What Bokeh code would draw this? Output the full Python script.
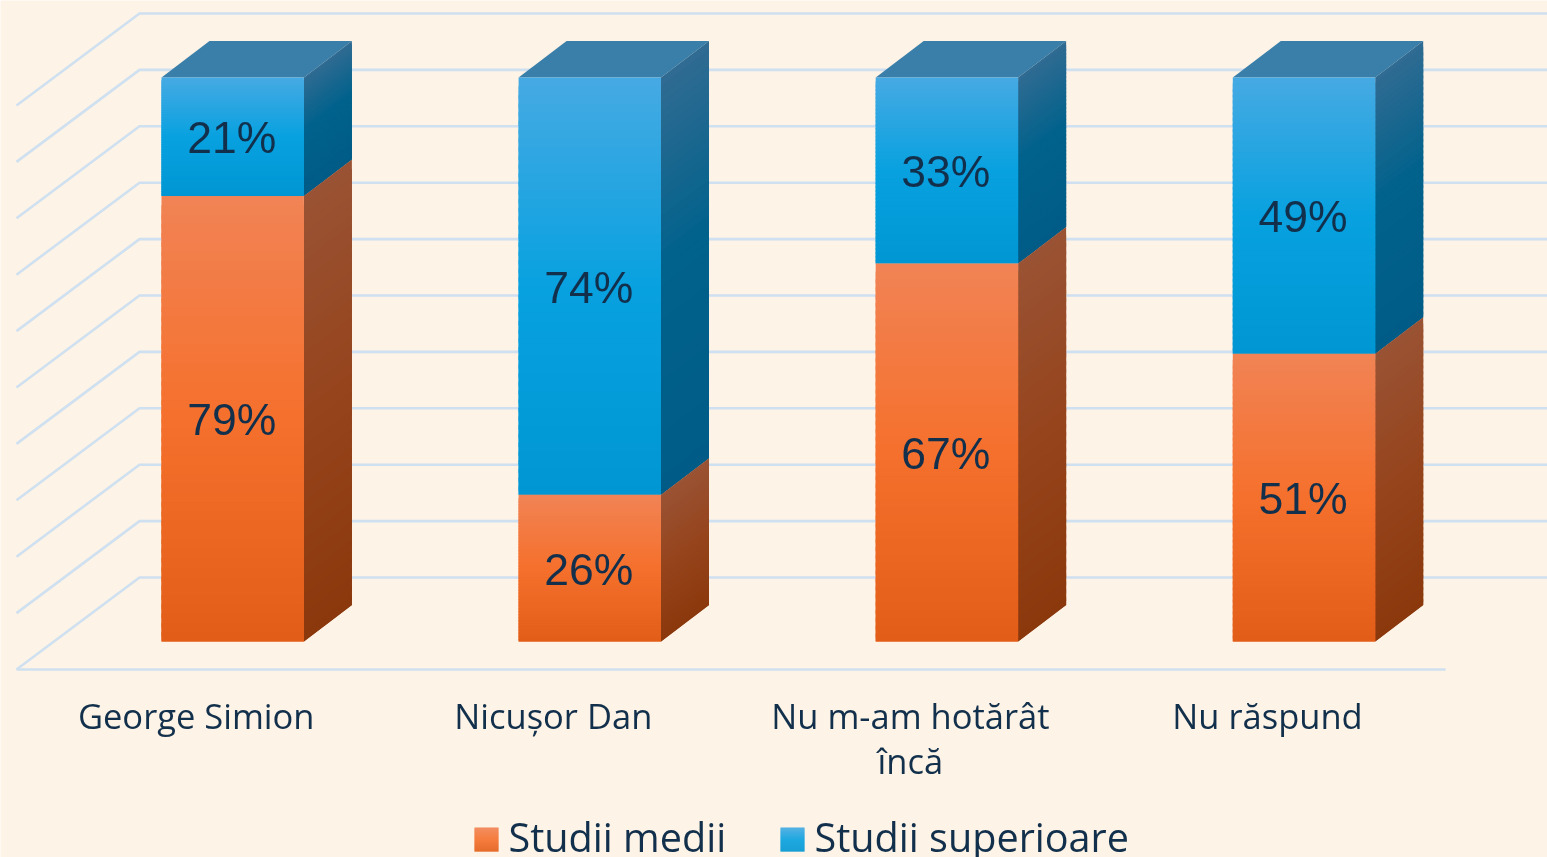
from bokeh.plotting import figure
from bokeh.embed import file_html
from bokeh.resources import INLINE
from bokeh.core.properties import value

# ---- data ----
categories = ["George Simion", "Nicușor Dan", "Nu m-am hotărât\nîncă", "Nu răspund"]
studii_medii = [79, 26, 67, 51]
studii_superioare = [21, 74, 33, 49]
series_names = ["Studii medii", "Studii superioare"]
y_ticks = [0, 10, 20, 30, 40, 50, 60, 70, 80, 90, 100]

# ---- style / layout ----
W, H = 1547, 857
BG = "#FDF3E6"
INK = "#12304C"
GRID = "#CFE0F1"
X0_PX, X_STEP = 232.2, 357.1    # screen x of category 0, px per category
Y0_PX, Y_STEP = 641.0, 5.64     # screen y of value 0, px per percent
def xd(px): return (px - X0_PX) / X_STEP
def yd(py): return (Y0_PX - py) / Y_STEP
HALF = 71.2 / X_STEP
DX, DY = 48.0 / X_STEP, 36.5 / Y_STEP
N = 48

ORANGE_FRONT = [(0, (241, 131, 85)), (.5, (245, 112, 44)), (1, (226, 94, 24))]
BLUE_FRONT = [(0, (70, 170, 227)), (.5, (8, 161, 224)), (1, (0, 150, 211))]
ORANGE_SIDE = [(0, (153, 83, 52)), (.5, (150, 68, 28)), (1, (139, 56, 13))]
BLUE_SIDE = [(0, (48, 107, 146)), (.45, (1, 98, 140)), (1, (0, 92, 134))]
BLUE_TOP = "#3A7FA9"

def grad(stops, t):
    for (a, ca), (b, cb) in zip(stops, stops[1:]):
        if t <= b:
            f = (t - a) / (b - a)
            return "#%02x%02x%02x" % tuple(round(p + (q - p) * f) for p, q in zip(ca, cb))
    return "#%02x%02x%02x" % stops[-1][1]

p = figure(width=W, height=H, x_range=(xd(0), xd(W)), y_range=(yd(H), yd(0)),
           output_backend="svg", toolbar_location=None, min_border=0,
           background_fill_color=BG, border_fill_color=BG, outline_line_color=None,
           styles={"position": "fixed", "left": "0", "top": "0"})
p.axis.visible = False
p.grid.visible = False

# ---- 3D wall and floor grid ----
back_x, front_x = xd(139), xd(16)
back_shift, front_shift = yd(577), yd(669)
gx, gy = [], []
for t in y_ticks:
    gx.append([front_x, back_x, xd(W + 5)])
    gy.append([t + front_shift, t + back_shift, t + back_shift])
gx.append([front_x, xd(1445)])
gy.append([front_shift, front_shift])
p.multi_line(gx, gy, line_color=GRID, line_width=2.6)

# ---- bars ----
def segment(i, lo, hi, front, side):
    qx0, qx1, qt, qb, qc = [], [], [], [], []
    sx, sy, sc = [], [], []
    c = float(i)
    for k in range(N):
        t0, t1 = k / N, (k + 1) / N
        top = hi + (lo - hi) * t0
        bot = hi + (lo - hi) * min(1, t1 + 1.5 / N)
        qx0.append(c - HALF); qx1.append(c + HALF); qt.append(top); qb.append(bot)
        qc.append(grad(front, (t0 + t1) / 2))
        sx.append([c + HALF, c + HALF + DX, c + HALF + DX, c + HALF])
        sy.append([top, top + DY, bot + DY, bot])
        sc.append(grad(side, (t0 + t1) / 2))
    p.patches(sx, sy, fill_color=sc, line_color=None)
    p.quad(left=qx0, right=qx1, top=qt, bottom=qb, fill_color=qc, line_color=None)

for i in range(len(categories)):
    m, s = studii_medii[i], studii_superioare[i]
    c = float(i)
    p.patch([c - HALF, c - HALF + DX, c + HALF + DX, c + HALF],
            [m + s, m + s + DY, m + s + DY, m + s], fill_color=BLUE_TOP, line_color=None)
    segment(i, m, m + s, BLUE_FRONT, BLUE_SIDE)
    segment(i, 0, m, ORANGE_FRONT, ORANGE_SIDE)

# ---- data labels ----
lx, ly, lt = [], [], []
for i in range(len(categories)):
    m, s = studii_medii[i], studii_superioare[i]
    lx += [float(i), float(i)]
    ly += [m / 2, m + s / 2]
    lt += [f"{m}%", f"{s}%"]
p.text(lx, ly, text=lt, text_font=value("Liberation Sans"), text_font_size="44.5px",
       text_align="center", text_baseline="middle", text_color=INK, y_offset=1, x_offset=-1)

# ---- category labels ----
CAT_SHIFT = -36.5 / X_STEP
p.text([i + CAT_SHIFT for i in range(len(categories))], [yd(716)] * len(categories), text=categories,
       text_font=value("Open Sans"), text_font_size="34.5px", text_align="center", text_baseline="top",
       text_color=INK, y_offset=-25, text_line_height=0.96)

# ---- legend ----
swatches = [(474, ORANGE_FRONT), (780, BLUE_FRONT)]
for sx0, stops in swatches:
    l, r, t0, t1 = xd(sx0), xd(sx0 + 24), yd(827), yd(851)
    p.quad(left=[l] * N, right=[r] * N,
           top=[t0 + (t1 - t0) * k / N for k in range(N)],
           bottom=[t0 + (t1 - t0) * min(1, (k + 1.5) / N) for k in range(N)],
           fill_color=[grad(stops, (k + .5) / N) for k in range(N)], line_color=None)
p.text([xd(508), xd(814)], [yd(836)] * 2, text=series_names, text_font=value("Open Sans"),
       text_font_size="39.6px", text_align="left", text_baseline="middle", text_color=INK)

open("out.html", "w").write(file_html(p, INLINE))
